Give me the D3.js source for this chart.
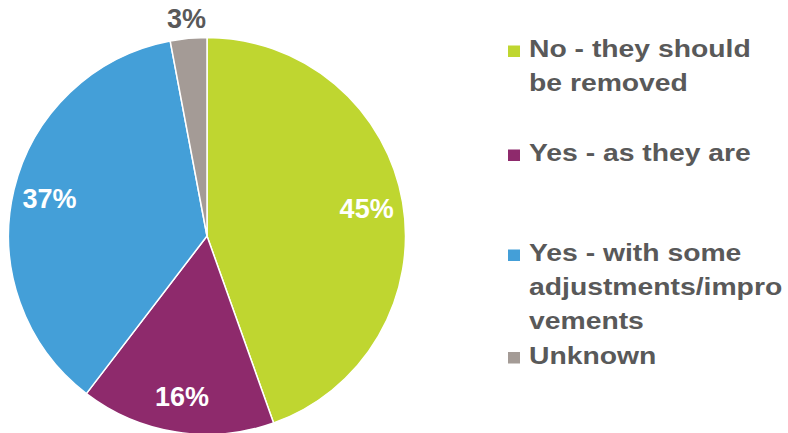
<!DOCTYPE html>
<html>
<head>
<meta charset="utf-8">
<script src="https://cdn.jsdelivr.net/npm/d3@7"></script>
<style>
  html, body { margin: 0; padding: 0; background: #ffffff; }
  svg { display: block; }
</style>
</head>
<body>
<svg id="chart" width="788" height="433"></svg>
<script>
// Survey answers, in clockwise order from twelve o'clock
const categories = ["No - they should be removed", "Yes - as they are", "Yes - with some adjustments/improvements", "Unknown"];
const shares = [45, 16, 37, 3];
const colours = ["#bfd630", "#8e2a6c", "#449fd8", "#a49b96"];
// Legend lines as wrapped in the legend box
const legendLines = [
  ["No - they should", "be removed"],
  ["Yes - as they are"],
  ["Yes - with some", "adjustments/impro", "vements"],
  ["Unknown"]
];

const svg = d3.select("#chart");
const cx = 207, cy = 236, radius = 198.5;

const pie = d3.pie().sort(null).value(d => d)(shares);
const arc = d3.arc().innerRadius(0).outerRadius(radius);
const insideLabel = d3.arc().innerRadius(162).outerRadius(162);
const outsideLabel = d3.arc().innerRadius(219).outerRadius(219);

const g = svg.append("g").attr("transform", `translate(${cx},${cy})`);

g.selectAll("path.slice")
  .data(pie)
  .join("path")
  .attr("class", "slice")
  .attr("d", arc)
  .attr("fill", (d, i) => colours[i])
  .attr("stroke", "#ffffff")
  .attr("stroke-width", 1.5)
  .attr("stroke-linejoin", "round");

// Percentage labels: inside the larger slices, outside the small one
g.selectAll("text.pct")
  .data(pie)
  .join("text")
  .attr("class", "pct")
  .each(function (d) {
    const small = (d.endAngle - d.startAngle) < 0.3;
    const [x, y] = (small ? outsideLabel : insideLabel).centroid(d);
    d3.select(this)
      .attr("x", x)
      .attr("y", y)
      .attr("fill", small ? "#595959" : "#ffffff");
  })
  .attr("text-anchor", "middle")
  .attr("dy", "0.36em")
  .attr("font-family", "'Liberation Sans', Arial, sans-serif")
  .attr("font-weight", "bold")
  .attr("font-size", 27)
  .text(d => d.value + "%");

// Legend
const legendX = 508, textX = 529;
const firstBaseline = [57, 161, 261, 363.5];
const lineStep = 34;

const legend = svg.append("g");
const items = legend.selectAll("g.item")
  .data(categories)
  .join("g")
  .attr("class", "item");

items.append("rect")
  .attr("x", legendX)
  .attr("y", (d, i) => firstBaseline[i] - 11.5)
  .attr("width", 12)
  .attr("height", 11.5)
  .attr("fill", (d, i) => colours[i]);

items.each(function (d, i) {
  const item = d3.select(this);
  legendLines[i].forEach((line, k) => {
    item.append("text")
      .attr("transform", `translate(${textX},${firstBaseline[i] + k * lineStep}) scale(1.18,1)`)
      .attr("font-family", "'Liberation Sans', Arial, sans-serif")
      .attr("font-weight", "bold")
      .attr("font-size", 24)
      .attr("fill", "#595959")
      .text(line);
  });
});
</script>
</body>
</html>
